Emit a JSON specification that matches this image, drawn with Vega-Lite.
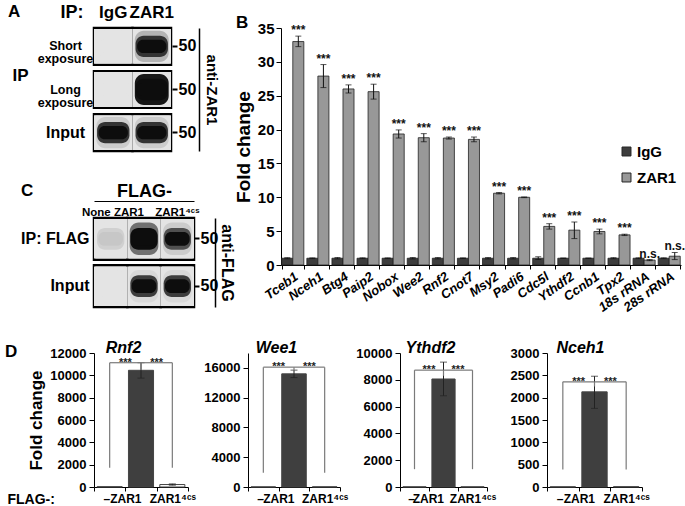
{
"$schema": "https://vega.github.io/schema/vega-lite/v6.json",
"background": "white",
"padding": {"left": 5, "top": 3, "right": 2, "bottom": 2},
"config": {
  "font": "Liberation Sans",
  "view": {"stroke": null},
  "axis": {"labelFont": "Liberation Sans", "titleFont": "Liberation Sans", "labelFontWeight": "bold", "titleFontWeight": "bold", "labelColor": "#000", "titleColor": "#000", "domainColor": "#000", "tickColor": "#000", "grid": false, "labelOverlap": false},
  "title": {"font": "Liberation Sans", "fontWeight": "bold", "color": "#000"}
},
"datasets": {
  "blotA": [
    {"row": "Short exposure", "lane": "IgG", "core": 0, "mid": 0, "outer": 0},
    {"row": "Short exposure", "lane": "ZAR1", "core": 1, "mid": 0.8, "outer": 0.2},
    {"row": "Long exposure", "lane": "IgG", "core": 0, "mid": 0, "outer": 0},
    {"row": "Long exposure", "lane": "ZAR1", "core": 1, "mid": 1, "outer": 0.95},
    {"row": "Input", "lane": "IgG", "core": 1, "mid": 0.8, "outer": 0.1},
    {"row": "Input", "lane": "ZAR1", "core": 1, "mid": 0.8, "outer": 0.1}
  ],
  "blotC": [
    {"row": "IP: FLAG", "lane": "None", "core": 0.12, "mid": 0.08, "outer": 0},
    {"row": "IP: FLAG", "lane": "ZAR1", "core": 1, "mid": 1, "outer": 0.5},
    {"row": "IP: FLAG", "lane": "ZAR1⁴ᶜˢ", "core": 1, "mid": 0.65, "outer": 0.1},
    {"row": "Input", "lane": "None", "core": 0, "mid": 0, "outer": 0},
    {"row": "Input", "lane": "ZAR1", "core": 1, "mid": 0.75, "outer": 0.05},
    {"row": "Input", "lane": "ZAR1⁴ᶜˢ", "core": 1, "mid": 0.75, "outer": 0.05}
  ],
  "foldB": [
    {"gene": "Tceb1", "grp": "IgG", "mean": 1.0, "lo": 0.92, "hi": 1.08},
    {"gene": "Tceb1", "grp": "ZAR1", "mean": 33.0, "lo": 32.25, "hi": 33.8, "sig": "***"},
    {"gene": "Nceh1", "grp": "IgG", "mean": 1.0, "lo": 0.95, "hi": 1.05},
    {"gene": "Nceh1", "grp": "ZAR1", "mean": 27.9, "lo": 26.2, "hi": 29.6, "sig": "***"},
    {"gene": "Btg4", "grp": "IgG", "mean": 1.0, "lo": 0.9, "hi": 1.1},
    {"gene": "Btg4", "grp": "ZAR1", "mean": 26.0, "lo": 25.4, "hi": 26.6, "sig": "***"},
    {"gene": "Paip2", "grp": "IgG", "mean": 1.0, "lo": 0.94, "hi": 1.06},
    {"gene": "Paip2", "grp": "ZAR1", "mean": 25.6, "lo": 24.5, "hi": 26.7, "sig": "***"},
    {"gene": "Nobox", "grp": "IgG", "mean": 1.0, "lo": 0.95, "hi": 1.05},
    {"gene": "Nobox", "grp": "ZAR1", "mean": 19.35, "lo": 18.75, "hi": 19.95, "sig": "***"},
    {"gene": "Wee2", "grp": "IgG", "mean": 1.0, "lo": 0.9, "hi": 1.1},
    {"gene": "Wee2", "grp": "ZAR1", "mean": 18.8, "lo": 18.2, "hi": 19.4, "sig": "***"},
    {"gene": "Rnf2", "grp": "IgG", "mean": 1.0, "lo": 0.9, "hi": 1.1},
    {"gene": "Rnf2", "grp": "ZAR1", "mean": 18.75, "lo": 18.6, "hi": 18.9, "sig": "***"},
    {"gene": "Cnot7", "grp": "IgG", "mean": 1.0, "lo": 0.95, "hi": 1.05},
    {"gene": "Cnot7", "grp": "ZAR1", "mean": 18.55, "lo": 18.2, "hi": 18.9, "sig": "***"},
    {"gene": "Msy2", "grp": "IgG", "mean": 1.0, "lo": 0.9, "hi": 1.1},
    {"gene": "Msy2", "grp": "ZAR1", "mean": 10.6, "lo": 10.5, "hi": 10.7, "sig": "***"},
    {"gene": "Padi6", "grp": "IgG", "mean": 1.0, "lo": 0.9, "hi": 1.1},
    {"gene": "Padi6", "grp": "ZAR1", "mean": 10.0, "lo": 9.95, "hi": 10.05, "sig": "***"},
    {"gene": "Cdc5l", "grp": "IgG", "mean": 1.0, "lo": 0.8, "hi": 1.2},
    {"gene": "Cdc5l", "grp": "ZAR1", "mean": 5.7, "lo": 5.3, "hi": 6.1, "sig": "***"},
    {"gene": "Ythdf2", "grp": "IgG", "mean": 1.0, "lo": 0.97, "hi": 1.03},
    {"gene": "Ythdf2", "grp": "ZAR1", "mean": 5.15, "lo": 3.9, "hi": 6.35, "sig": "***"},
    {"gene": "Ccnb1", "grp": "IgG", "mean": 1.0, "lo": 0.97, "hi": 1.03},
    {"gene": "Ccnb1", "grp": "ZAR1", "mean": 4.95, "lo": 4.6, "hi": 5.3, "sig": "***"},
    {"gene": "Tpx2", "grp": "IgG", "mean": 1.0, "lo": 0.92, "hi": 1.08},
    {"gene": "Tpx2", "grp": "ZAR1", "mean": 4.45, "lo": 4.35, "hi": 4.55, "sig": "***"},
    {"gene": "18s rRNA", "grp": "IgG", "mean": 1.0, "lo": 0.94, "hi": 1.06},
    {"gene": "18s rRNA", "grp": "ZAR1", "mean": 0.72, "lo": 0.64, "hi": 0.8, "sig": "n.s."},
    {"gene": "28s rRNA", "grp": "IgG", "mean": 1.0, "lo": 0.94, "hi": 1.06},
    {"gene": "28s rRNA", "grp": "ZAR1", "mean": 1.3, "lo": 0.8, "hi": 1.85, "sig": "n.s."}
  ],
  "rnf2": [
    {"cat": "–", "mean": 30},
    {"cat": "ZAR1", "mean": 10450, "lo": 9750, "hi": 11130},
    {"cat": "ZAR1⁴ᶜˢ", "mean": 220, "lo": 160, "hi": 280}
  ],
  "rnf2b": [
    {"x": "–", "x2": "–", "y": 1730, "y2": 11130},
    {"x": "–", "x2": "ZAR1", "y": 11130, "y2": 11130},
    {"x": "ZAR1", "x2": "ZAR1", "y": 10570, "y2": 11130},
    {"x": "ZAR1", "x2": "ZAR1⁴ᶜˢ", "y": 11130, "y2": 11130},
    {"x": "ZAR1⁴ᶜˢ", "x2": "ZAR1⁴ᶜˢ", "y": 1730, "y2": 11130}
  ],
  "rnf2s": [{"cat": "ZAR1", "y": 11130}],
  "wee1": [
    {"cat": "–", "mean": 20},
    {"cat": "ZAR1", "mean": 15200, "lo": 14700, "hi": 15700},
    {"cat": "ZAR1⁴ᶜˢ", "mean": 30}
  ],
  "wee1b": [
    {"x": "–", "x2": "–", "y": 1900, "y2": 16100},
    {"x": "–", "x2": "ZAR1", "y": 16100, "y2": 16100},
    {"x": "ZAR1", "x2": "ZAR1", "y": 15500, "y2": 16100},
    {"x": "ZAR1", "x2": "ZAR1⁴ᶜˢ", "y": 16100, "y2": 16100},
    {"x": "ZAR1⁴ᶜˢ", "x2": "ZAR1⁴ᶜˢ", "y": 1900, "y2": 16100}
  ],
  "wee1s": [{"cat": "ZAR1", "y": 16100}],
  "ythdf2": [
    {"cat": "–", "mean": 15},
    {"cat": "ZAR1", "mean": 8060, "lo": 6810, "hi": 9320},
    {"cat": "ZAR1⁴ᶜˢ", "mean": 15}
  ],
  "ythdf2b": [
    {"x": "–", "x2": "–", "y": 1330, "y2": 8720},
    {"x": "–", "x2": "ZAR1", "y": 8720, "y2": 8720},
    {"x": "ZAR1", "x2": "ZAR1", "y": 8300, "y2": 8720},
    {"x": "ZAR1", "x2": "ZAR1⁴ᶜˢ", "y": 8720, "y2": 8720},
    {"x": "ZAR1⁴ᶜˢ", "x2": "ZAR1⁴ᶜˢ", "y": 1330, "y2": 8720}
  ],
  "ythdf2s": [{"cat": "ZAR1", "y": 8720}],
  "nceh1": [
    {"cat": "–", "mean": 5},
    {"cat": "ZAR1", "mean": 2130, "lo": 1760, "hi": 2480},
    {"cat": "ZAR1⁴ᶜˢ", "mean": 8}
  ],
  "nceh1b": [
    {"x": "–", "x2": "–", "y": 390, "y2": 2355},
    {"x": "–", "x2": "ZAR1", "y": 2355, "y2": 2355},
    {"x": "ZAR1", "x2": "ZAR1", "y": 2250, "y2": 2355},
    {"x": "ZAR1", "x2": "ZAR1⁴ᶜˢ", "y": 2355, "y2": 2355},
    {"x": "ZAR1⁴ᶜˢ", "x2": "ZAR1⁴ᶜˢ", "y": 390, "y2": 2355}
  ],
  "nceh1s": [{"cat": "ZAR1", "y": 2355}]
},
"spacing": 24,
"resolve": {"scale": {"fill": "independent"}},
"vconcat": [
  {
    "spacing": 0,
    "resolve": {"scale": {"fill": "independent"}},
    "hconcat": [
      {
        "concat": [
          {
            "width": 77, "height": 123,
            "title": {"text": "A", "anchor": "start", "frame": "group", "dx": -86, "dy": 22, "fontSize": 17},
            "data": {"name": "blotA"},
            "resolve": {"axis": {"x": "independent", "y": "independent"}},
            "layer": [
              {
                "mark": {"type": "rect", "fill": "#e4e4e4", "stroke": "#000", "strokeWidth": 2.5},
                "encoding": {
                  "x": {"field": "lane", "type": "nominal", "scale": {"domain": ["IgG", "ZAR1"], "paddingInner": 0, "paddingOuter": 0}, "axis": null},
                  "y": {"field": "row", "type": "nominal", "scale": {"domain": ["Short exposure", "Long exposure", "Input"], "paddingInner": 0.15, "paddingOuter": 0},
                    "axis": {"orient": "left", "title": null, "ticks": false, "domain": false, "labelExpr": "split(datum.label, ' ')", "labelAlign": "center", "labelPadding": 29, "labelFontSize": {"condition": {"test": "datum.label == 'Input'", "value": 16}, "value": 12.5}, "labelLineHeight": 13, "labelBaseline": "middle"}}
                }
              },
              {
                "mark": {"type": "rect", "fill": "#e4e4e4", "height": {"band": 0.95}},
                "encoding": {
                  "x": {"field": "lane", "type": "nominal", "axis": null},
                  "y": {"field": "row", "type": "nominal", "axis": null}
                }
              },
              {
                "mark": {"type": "rect", "width": {"band": 0.88}, "height": {"band": 0.85}, "cornerRadius": 9},
                "encoding": {
                  "x": {"field": "lane", "type": "nominal", "axis": null},
                  "y": {"field": "row", "type": "nominal", "axis": null},
                  "fill": {"field": "outer", "type": "quantitative", "scale": {"domain": [0, 1], "range": ["#e4e4e4", "#0d0d0d"]}, "legend": null}
                }
              },
              {
                "mark": {"type": "rect", "width": {"band": 0.84}, "height": {"band": 0.58}, "cornerRadius": 8},
                "encoding": {
                  "x": {"field": "lane", "type": "nominal", "axis": null},
                  "y": {"field": "row", "type": "nominal", "axis": null},
                  "fill": {"field": "mid", "type": "quantitative", "legend": null}
                }
              },
              {
                "mark": {"type": "rect", "width": {"band": 0.76}, "height": {"band": 0.36}, "cornerRadius": 6},
                "encoding": {
                  "x": {"field": "lane", "type": "nominal",
                    "axis": {"orient": "top", "title": "IP:", "titleX": -11, "titleY": -7, "titleAlign": "right", "titleBaseline": "bottom", "titleFontSize": 18, "labelFontSize": 17, "labelPadding": 7, "labelAngle": 0, "ticks": false, "domain": false}},
                  "y": {"field": "row", "type": "nominal", "axis": null},
                  "fill": {"field": "core", "type": "quantitative", "legend": null}
                }
              },
              {
                "mark": {"type": "rect", "opacity": 0},
                "encoding": {
                  "x": {"field": "lane", "type": "nominal", "axis": null},
                  "y": {"field": "row", "type": "nominal",
                    "axis": {"orient": "right", "title": null, "domain": false, "tickSize": 5, "tickWidth": 2, "offset": 1, "labelPadding": 1, "labelExpr": "'50'", "labelFontSize": 16}}
                }
              },
              {
                "mark": {"type": "rect", "opacity": 0},
                "encoding": {
                  "x": {"field": "lane", "type": "nominal", "axis": null},
                  "y": {"field": "row", "type": "nominal",
                    "axis": {"orient": "right", "offset": 28, "labels": false, "ticks": false, "domain": true, "domainWidth": 1.5, "title": "anti-ZAR1", "titleAngle": 90, "titleFontSize": 15, "titlePadding": 4}}
                }
              },
              {
                "mark": {"type": "rect", "opacity": 0},
                "encoding": {
                  "x": {"field": "lane", "type": "nominal", "axis": null},
                  "y": {"field": "row", "type": "nominal",
                    "axis": {"orient": "left", "offset": 58, "labels": false, "ticks": false, "domain": false, "title": "IP", "titleAngle": 0, "titleAlign": "right", "titleBaseline": "middle", "titleY": 47, "titleFontSize": 17, "titlePadding": 8}}
                }
              }
            ]
          },
          {
            "width": 100, "height": 89,
            "title": {"text": "C", "anchor": "start", "frame": "group", "dx": -73, "dy": 22, "fontSize": 17},
            "data": {"name": "blotC"},
            "resolve": {"axis": {"x": "independent", "y": "independent"}},
            "layer": [
              {
                "mark": {"type": "rect", "fill": "#e4e4e4", "stroke": "#000", "strokeWidth": 2.5},
                "encoding": {
                  "x": {"field": "lane", "type": "nominal", "scale": {"domain": ["None", "ZAR1", "ZAR1⁴ᶜˢ"], "paddingInner": 0, "paddingOuter": 0}, "axis": null},
                  "y": {"field": "row", "type": "nominal", "scale": {"domain": ["IP: FLAG", "Input"], "paddingInner": 0.12, "paddingOuter": 0},
                    "axis": {"orient": "left", "title": null, "ticks": false, "domain": false, "labelFontSize": 16, "labelPadding": 5}}
                }
              },
              {
                "mark": {"type": "rect", "fill": "#e4e4e4", "height": {"band": 0.95}},
                "encoding": {
                  "x": {"field": "lane", "type": "nominal", "axis": null},
                  "y": {"field": "row", "type": "nominal", "axis": null}
                }
              },
              {
                "mark": {"type": "rect", "width": {"band": 0.86}, "height": {"band": 0.78}, "cornerRadius": 9},
                "encoding": {
                  "x": {"field": "lane", "type": "nominal", "axis": null},
                  "y": {"field": "row", "type": "nominal", "axis": null},
                  "fill": {"field": "outer", "type": "quantitative", "scale": {"domain": [0, 1], "range": ["#e4e4e4", "#0d0d0d"]}, "legend": null}
                }
              },
              {
                "mark": {"type": "rect", "width": {"band": 0.82}, "height": {"band": 0.52}, "cornerRadius": 8},
                "encoding": {
                  "x": {"field": "lane", "type": "nominal", "axis": null},
                  "y": {"field": "row", "type": "nominal", "axis": null},
                  "fill": {"field": "mid", "type": "quantitative", "legend": null}
                }
              },
              {
                "mark": {"type": "rect", "width": {"band": 0.74}, "height": {"band": 0.33}, "cornerRadius": 6},
                "encoding": {
                  "x": {"field": "lane", "type": "nominal",
                    "axis": {"orient": "top", "title": null, "labelFontSize": 11.5, "labelPadding": 1, "labelAngle": 0, "labelAlign": {"condition": {"test": "datum.label == 'ZAR1⁴ᶜˢ'", "value": "center"}, "value": "right"}, "ticks": false, "domain": false}},
                  "y": {"field": "row", "type": "nominal", "axis": null},
                  "fill": {"field": "core", "type": "quantitative", "legend": null}
                }
              },
              {
                "mark": {"type": "rect", "opacity": 0},
                "encoding": {
                  "x": {"field": "lane", "type": "nominal",
                    "axis": {"orient": "top", "offset": 17, "labels": false, "ticks": false, "domain": true, "domainWidth": 1, "title": "FLAG-", "titleFontSize": 18, "titlePadding": 1}},
                  "y": {"field": "row", "type": "nominal", "axis": null}
                }
              },
              {
                "mark": {"type": "rect", "opacity": 0},
                "encoding": {
                  "x": {"field": "lane", "type": "nominal", "axis": null},
                  "y": {"field": "row", "type": "nominal",
                    "axis": {"orient": "right", "title": null, "domain": false, "tickSize": 5, "tickWidth": 2, "offset": 0, "labelPadding": 1, "labelExpr": "'50'", "labelFontSize": 16}}
                }
              },
              {
                "mark": {"type": "rect", "opacity": 0},
                "encoding": {
                  "x": {"field": "lane", "type": "nominal", "axis": null},
                  "y": {"field": "row", "type": "nominal",
                    "axis": {"orient": "right", "offset": 21, "labels": false, "ticks": false, "domain": true, "domainWidth": 1.5, "title": "anti-FLAG", "titleAngle": 90, "titleFontSize": 16, "titlePadding": 3}}
                }
              }
            ]
          }
        ],
        "columns": 1,
        "align": "none",
        "spacing": 29,
        "resolve": {"scale": {"fill": "independent"}}
      },
      {
        "width": 400, "height": 237,
        "title": {"text": "B", "anchor": "start", "frame": "group", "dx": -45, "offset": -11, "fontSize": 17},
        "data": {"name": "foldB"},
        "encoding": {
          "x": {"field": "gene", "type": "nominal", "sort": null,
            "scale": {"domain": ["Tceb1", "Nceh1", "Btg4", "Paip2", "Nobox", "Wee2", "Rnf2", "Cnot7", "Msy2", "Padi6", "Cdc5l", "Ythdf2", "Ccnb1", "Tpx2", "18s rRNA", "28s rRNA"], "paddingInner": 0.12, "paddingOuter": 0.03},
            "axis": {"title": null, "labelAngle": -35, "labelAlign": "right", "labelBaseline": "top", "labelFontSize": 13, "labelFontStyle": "italic", "labelPadding": 1, "tickBand": "extent", "tickSize": 4}},
          "xOffset": {"field": "grp", "type": "nominal", "scale": {"domain": ["IgG", "ZAR1"]}}
        },
        "layer": [
          {
            "mark": {"type": "bar", "stroke": "#222", "strokeWidth": 0.8},
            "encoding": {
              "y": {"field": "mean", "type": "quantitative", "scale": {"domain": [0, 35], "nice": false},
                "axis": {"values": [0, 5, 10, 15, 20, 25, 30, 35], "title": "Fold change", "titleFontSize": 19, "titlePadding": 4, "labelFontSize": 15, "tickSize": 5, "labelPadding": 2}},
              "fill": {"field": "grp", "type": "nominal", "scale": {"domain": ["IgG", "ZAR1"], "range": ["#3d3d3d", "#989898"]},
                "legend": {"orient": "none", "legendX": 338, "legendY": 116, "title": null, "symbolType": "square", "symbolSize": 80, "symbolStrokeColor": "#222", "symbolStrokeWidth": 1, "labelFontSize": 15, "labelFontWeight": "bold", "labelColor": "#000", "rowPadding": 10, "labelOffset": 3}}
            }
          },
          {
            "mark": {"type": "rule", "color": "#111", "strokeWidth": 1},
            "encoding": {"y": {"field": "lo", "type": "quantitative", "scale": {"domain": [0, 35], "nice": false},
                "axis": {"values": [0, 5, 10, 15, 20, 25, 30, 35], "title": "Fold change", "titleFontSize": 19, "titlePadding": 4, "labelFontSize": 15, "tickSize": 5, "labelPadding": 2}}, "y2": {"field": "hi"}}
          },
          {
            "mark": {"type": "tick", "color": "#111", "thickness": 1, "size": 6},
            "encoding": {"y": {"field": "lo", "type": "quantitative", "scale": {"domain": [0, 35], "nice": false},
                "axis": {"values": [0, 5, 10, 15, 20, 25, 30, 35], "title": "Fold change", "titleFontSize": 19, "titlePadding": 4, "labelFontSize": 15, "tickSize": 5, "labelPadding": 2}}}
          },
          {
            "mark": {"type": "tick", "color": "#111", "thickness": 1, "size": 6},
            "encoding": {"y": {"field": "hi", "type": "quantitative", "scale": {"domain": [0, 35], "nice": false},
                "axis": {"values": [0, 5, 10, 15, 20, 25, 30, 35], "title": "Fold change", "titleFontSize": 19, "titlePadding": 4, "labelFontSize": 15, "tickSize": 5, "labelPadding": 2}}}
          },
          {
            "transform": [{"filter": "isValid(datum.sig)"}],
            "mark": {"type": "text", "baseline": "alphabetic", "dy": -2, "fontSize": 12, "fontWeight": "bold", "color": "#111"},
            "encoding": {"y": {"field": "hi", "type": "quantitative", "scale": {"domain": [0, 35], "nice": false},
                "axis": {"values": [0, 5, 10, 15, 20, 25, 30, 35], "title": "Fold change", "titleFontSize": 19, "titlePadding": 4, "labelFontSize": 15, "tickSize": 5, "labelPadding": 2}}, "text": {"field": "sig"}}
          }
        ]
      }
    ]
  },
  {
    "spacing": 60,
    "bounds": "flush",
    "hconcat": [
      {
        "width": 94, "height": 134,
        "title": {"text": "D", "anchor": "start", "frame": "group", "dx": -89, "dy": 26, "fontSize": 17},
        "resolve": {"axis": {"x": "independent"}},
        "layer": [
          {"data": {"name": "rnf2"}, "mark": {"type": "bar", "width": {"band": 0.8}, "stroke": "#444", "strokeWidth": 1},
           "encoding": {
             "x": {"field": "cat", "type": "nominal", "scale": {"domain": ["–", "ZAR1", "ZAR1⁴ᶜˢ"], "paddingInner": 0, "paddingOuter": 0},
               "axis": {"title": "FLAG-:", "titleX": -87, "titleY": 5, "titleAlign": "left", "titleBaseline": "top", "titleFontSize": 14, "labelAngle": 0, "labelFontSize": 12, "labelPadding": 2, "labelExpr": "datum.label == '–' ? '–\u00a0\u00a0\u00a0' : datum.label", "labelAlign": {"condition": {"test": "datum.label == 'ZAR1⁴ᶜˢ'", "value": "center"}, "value": "right"}, "tickBand": "extent", "tickSize": 4}},
             "y": {"field": "mean", "type": "quantitative", "scale": {"domain": [0, 12000], "nice": false},
               "axis": {"values": [0, 2000, 4000, 6000, 8000, 10000, 12000], "format": "d", "title": "Fold change", "titleFontSize": 17, "titlePadding": 4, "labelFontSize": 13, "tickSize": 5, "labelPadding": 3}},
             "fill": {"field": "cat", "type": "nominal", "scale": {"domain": ["–", "ZAR1", "ZAR1⁴ᶜˢ"], "range": ["#ffffff", "#3f3f3f", "#ffffff"]}, "legend": null}}},
          {"data": {"name": "rnf2"}, "transform": [{"filter": "isValid(datum.lo)"}], "mark": {"type": "rule", "color": "#222"},
           "encoding": {"x": {"field": "cat", "type": "nominal", "axis": null}, "y": {"field": "lo", "type": "quantitative", "scale": {"domain": [0, 12000], "nice": false}, "axis": {"values": [0, 2000, 4000, 6000, 8000, 10000, 12000], "format": "d", "title": "Fold change", "titleFontSize": 17, "titlePadding": 4, "labelFontSize": 13, "tickSize": 5, "labelPadding": 3}}, "y2": {"field": "hi"}}},
          {"data": {"name": "rnf2"}, "transform": [{"filter": "isValid(datum.lo)"}], "mark": {"type": "tick", "color": "#222", "thickness": 1, "size": 7},
           "encoding": {"x": {"field": "cat", "type": "nominal", "axis": null}, "y": {"field": "lo", "type": "quantitative", "scale": {"domain": [0, 12000], "nice": false}, "axis": {"values": [0, 2000, 4000, 6000, 8000, 10000, 12000], "format": "d", "title": "Fold change", "titleFontSize": 17, "titlePadding": 4, "labelFontSize": 13, "tickSize": 5, "labelPadding": 3}}}},
          {"data": {"name": "rnf2"}, "transform": [{"filter": "isValid(datum.lo)"}], "mark": {"type": "tick", "color": "#222", "thickness": 1, "size": 7},
           "encoding": {"x": {"field": "cat", "type": "nominal", "axis": null}, "y": {"field": "hi", "type": "quantitative", "scale": {"domain": [0, 12000], "nice": false}, "axis": {"values": [0, 2000, 4000, 6000, 8000, 10000, 12000], "format": "d", "title": "Fold change", "titleFontSize": 17, "titlePadding": 4, "labelFontSize": 13, "tickSize": 5, "labelPadding": 3}}}},
          {"data": {"name": "rnf2b"}, "mark": {"type": "rule", "color": "#7a7a7a", "strokeWidth": 1.2},
           "encoding": {"x": {"field": "x", "type": "nominal", "axis": {"orient": "top", "labels": false, "ticks": false, "domain": false, "title": "Rnf2", "titleFontStyle": "italic", "titleFontSize": 16, "titleX": 29, "titleY": -1, "titleBaseline": "alphabetic", "titleAlign": "center"}},
             "x2": {"field": "x2"}, "y": {"field": "y", "type": "quantitative", "scale": {"domain": [0, 12000], "nice": false}, "axis": {"values": [0, 2000, 4000, 6000, 8000, 10000, 12000], "format": "d", "title": "Fold change", "titleFontSize": 17, "titlePadding": 4, "labelFontSize": 13, "tickSize": 5, "labelPadding": 3}}, "y2": {"field": "y2"}}},
          {"data": {"name": "rnf2s"}, "mark": {"type": "text", "text": "***", "fontSize": 11, "fontWeight": "bold", "baseline": "alphabetic", "dy": 3, "color": "#222"},
           "encoding": {"x": {"field": "cat", "type": "nominal", "bandPosition": 0, "axis": null}, "y": {"field": "y", "type": "quantitative", "scale": {"domain": [0, 12000], "nice": false}, "axis": {"values": [0, 2000, 4000, 6000, 8000, 10000, 12000], "format": "d", "title": "Fold change", "titleFontSize": 17, "titlePadding": 4, "labelFontSize": 13, "tickSize": 5, "labelPadding": 3}}}},
          {"data": {"name": "rnf2s"}, "mark": {"type": "text", "text": "***", "fontSize": 11, "fontWeight": "bold", "baseline": "alphabetic", "dy": 3, "color": "#222"},
           "encoding": {"x": {"field": "cat", "type": "nominal", "bandPosition": 1, "axis": null}, "y": {"field": "y", "type": "quantitative", "scale": {"domain": [0, 12000], "nice": false}, "axis": {"values": [0, 2000, 4000, 6000, 8000, 10000, 12000], "format": "d", "title": "Fold change", "titleFontSize": 17, "titlePadding": 4, "labelFontSize": 13, "tickSize": 5, "labelPadding": 3}}}}
        ]
      },
      {
        "width": 92, "height": 134,
        "resolve": {"axis": {"x": "independent"}},
        "layer": [
          {"data": {"name": "wee1"}, "mark": {"type": "bar", "width": {"band": 0.8}, "stroke": "#444", "strokeWidth": 1},
           "encoding": {
             "x": {"field": "cat", "type": "nominal", "scale": {"domain": ["–", "ZAR1", "ZAR1⁴ᶜˢ"], "paddingInner": 0, "paddingOuter": 0},
               "axis": {"title": null, "labelAngle": 0, "labelFontSize": 12, "labelPadding": 2, "labelExpr": "datum.label == '–' ? '–\u00a0\u00a0\u00a0' : datum.label", "labelAlign": {"condition": {"test": "datum.label == 'ZAR1⁴ᶜˢ'", "value": "center"}, "value": "right"}, "tickBand": "extent", "tickSize": 4}},
             "y": {"field": "mean", "type": "quantitative", "scale": {"domain": [0, 18000], "nice": false},
               "axis": {"values": [0, 4000, 8000, 12000, 16000], "format": "d", "title": null, "labelFontSize": 13, "tickSize": 5, "labelPadding": 3}},
             "fill": {"field": "cat", "type": "nominal", "scale": {"domain": ["–", "ZAR1", "ZAR1⁴ᶜˢ"], "range": ["#ffffff", "#3f3f3f", "#ffffff"]}, "legend": null}}},
          {"data": {"name": "wee1"}, "transform": [{"filter": "isValid(datum.lo)"}], "mark": {"type": "rule", "color": "#222"},
           "encoding": {"x": {"field": "cat", "type": "nominal", "axis": null}, "y": {"field": "lo", "type": "quantitative", "scale": {"domain": [0, 18000], "nice": false}, "axis": {"values": [0, 4000, 8000, 12000, 16000], "format": "d", "title": null, "labelFontSize": 13, "tickSize": 5, "labelPadding": 3}}, "y2": {"field": "hi"}}},
          {"data": {"name": "wee1"}, "transform": [{"filter": "isValid(datum.lo)"}], "mark": {"type": "tick", "color": "#222", "thickness": 1, "size": 7},
           "encoding": {"x": {"field": "cat", "type": "nominal", "axis": null}, "y": {"field": "lo", "type": "quantitative", "scale": {"domain": [0, 18000], "nice": false}, "axis": {"values": [0, 4000, 8000, 12000, 16000], "format": "d", "title": null, "labelFontSize": 13, "tickSize": 5, "labelPadding": 3}}}},
          {"data": {"name": "wee1"}, "transform": [{"filter": "isValid(datum.lo)"}], "mark": {"type": "tick", "color": "#222", "thickness": 1, "size": 7},
           "encoding": {"x": {"field": "cat", "type": "nominal", "axis": null}, "y": {"field": "hi", "type": "quantitative", "scale": {"domain": [0, 18000], "nice": false}, "axis": {"values": [0, 4000, 8000, 12000, 16000], "format": "d", "title": null, "labelFontSize": 13, "tickSize": 5, "labelPadding": 3}}}},
          {"data": {"name": "wee1b"}, "mark": {"type": "rule", "color": "#7a7a7a", "strokeWidth": 1.2},
           "encoding": {"x": {"field": "x", "type": "nominal", "axis": {"orient": "top", "labels": false, "ticks": false, "domain": false, "title": "Wee1", "titleFontStyle": "italic", "titleFontSize": 16, "titleX": 28, "titleY": -1, "titleBaseline": "alphabetic", "titleAlign": "center"}},
             "x2": {"field": "x2"}, "y": {"field": "y", "type": "quantitative", "scale": {"domain": [0, 18000], "nice": false}, "axis": {"values": [0, 4000, 8000, 12000, 16000], "format": "d", "title": null, "labelFontSize": 13, "tickSize": 5, "labelPadding": 3}}, "y2": {"field": "y2"}}},
          {"data": {"name": "wee1s"}, "mark": {"type": "text", "text": "***", "fontSize": 11, "fontWeight": "bold", "baseline": "alphabetic", "dy": 3, "color": "#222"},
           "encoding": {"x": {"field": "cat", "type": "nominal", "bandPosition": 0, "axis": null}, "y": {"field": "y", "type": "quantitative", "scale": {"domain": [0, 18000], "nice": false}, "axis": {"values": [0, 4000, 8000, 12000, 16000], "format": "d", "title": null, "labelFontSize": 13, "tickSize": 5, "labelPadding": 3}}}},
          {"data": {"name": "wee1s"}, "mark": {"type": "text", "text": "***", "fontSize": 11, "fontWeight": "bold", "baseline": "alphabetic", "dy": 3, "color": "#222"},
           "encoding": {"x": {"field": "cat", "type": "nominal", "bandPosition": 1, "axis": null}, "y": {"field": "y", "type": "quantitative", "scale": {"domain": [0, 18000], "nice": false}, "axis": {"values": [0, 4000, 8000, 12000, 16000], "format": "d", "title": null, "labelFontSize": 13, "tickSize": 5, "labelPadding": 3}}}}
        ]
      },
      {
        "width": 87, "height": 134,
        "resolve": {"axis": {"x": "independent"}},
        "layer": [
          {"data": {"name": "ythdf2"}, "mark": {"type": "bar", "width": {"band": 0.8}, "stroke": "#444", "strokeWidth": 1},
           "encoding": {
             "x": {"field": "cat", "type": "nominal", "scale": {"domain": ["–", "ZAR1", "ZAR1⁴ᶜˢ"], "paddingInner": 0, "paddingOuter": 0},
               "axis": {"title": null, "labelAngle": 0, "labelFontSize": 12, "labelPadding": 2, "labelExpr": "datum.label == '–' ? '–\u00a0\u00a0\u00a0' : datum.label", "labelAlign": {"condition": {"test": "datum.label == 'ZAR1⁴ᶜˢ'", "value": "center"}, "value": "right"}, "tickBand": "extent", "tickSize": 4}},
             "y": {"field": "mean", "type": "quantitative", "scale": {"domain": [0, 10000], "nice": false},
               "axis": {"values": [0, 2000, 4000, 6000, 8000, 10000], "format": "d", "title": null, "labelFontSize": 13, "tickSize": 5, "labelPadding": 3}},
             "fill": {"field": "cat", "type": "nominal", "scale": {"domain": ["–", "ZAR1", "ZAR1⁴ᶜˢ"], "range": ["#ffffff", "#3f3f3f", "#ffffff"]}, "legend": null}}},
          {"data": {"name": "ythdf2"}, "transform": [{"filter": "isValid(datum.lo)"}], "mark": {"type": "rule", "color": "#222"},
           "encoding": {"x": {"field": "cat", "type": "nominal", "axis": null}, "y": {"field": "lo", "type": "quantitative", "scale": {"domain": [0, 10000], "nice": false}, "axis": {"values": [0, 2000, 4000, 6000, 8000, 10000], "format": "d", "title": null, "labelFontSize": 13, "tickSize": 5, "labelPadding": 3}}, "y2": {"field": "hi"}}},
          {"data": {"name": "ythdf2"}, "transform": [{"filter": "isValid(datum.lo)"}], "mark": {"type": "tick", "color": "#222", "thickness": 1, "size": 7},
           "encoding": {"x": {"field": "cat", "type": "nominal", "axis": null}, "y": {"field": "lo", "type": "quantitative", "scale": {"domain": [0, 10000], "nice": false}, "axis": {"values": [0, 2000, 4000, 6000, 8000, 10000], "format": "d", "title": null, "labelFontSize": 13, "tickSize": 5, "labelPadding": 3}}}},
          {"data": {"name": "ythdf2"}, "transform": [{"filter": "isValid(datum.lo)"}], "mark": {"type": "tick", "color": "#222", "thickness": 1, "size": 7},
           "encoding": {"x": {"field": "cat", "type": "nominal", "axis": null}, "y": {"field": "hi", "type": "quantitative", "scale": {"domain": [0, 10000], "nice": false}, "axis": {"values": [0, 2000, 4000, 6000, 8000, 10000], "format": "d", "title": null, "labelFontSize": 13, "tickSize": 5, "labelPadding": 3}}}},
          {"data": {"name": "ythdf2b"}, "mark": {"type": "rule", "color": "#7a7a7a", "strokeWidth": 1.2},
           "encoding": {"x": {"field": "x", "type": "nominal", "axis": {"orient": "top", "labels": false, "ticks": false, "domain": false, "title": "Ythdf2", "titleFontStyle": "italic", "titleFontSize": 16, "titleX": 30, "titleY": -1, "titleBaseline": "alphabetic", "titleAlign": "center"}},
             "x2": {"field": "x2"}, "y": {"field": "y", "type": "quantitative", "scale": {"domain": [0, 10000], "nice": false}, "axis": {"values": [0, 2000, 4000, 6000, 8000, 10000], "format": "d", "title": null, "labelFontSize": 13, "tickSize": 5, "labelPadding": 3}}, "y2": {"field": "y2"}}},
          {"data": {"name": "ythdf2s"}, "mark": {"type": "text", "text": "***", "fontSize": 11, "fontWeight": "bold", "baseline": "alphabetic", "dy": 3, "color": "#222"},
           "encoding": {"x": {"field": "cat", "type": "nominal", "bandPosition": 0, "axis": null}, "y": {"field": "y", "type": "quantitative", "scale": {"domain": [0, 10000], "nice": false}, "axis": {"values": [0, 2000, 4000, 6000, 8000, 10000], "format": "d", "title": null, "labelFontSize": 13, "tickSize": 5, "labelPadding": 3}}}},
          {"data": {"name": "ythdf2s"}, "mark": {"type": "text", "text": "***", "fontSize": 11, "fontWeight": "bold", "baseline": "alphabetic", "dy": 3, "color": "#222"},
           "encoding": {"x": {"field": "cat", "type": "nominal", "bandPosition": 1, "axis": null}, "y": {"field": "y", "type": "quantitative", "scale": {"domain": [0, 10000], "nice": false}, "axis": {"values": [0, 2000, 4000, 6000, 8000, 10000], "format": "d", "title": null, "labelFontSize": 13, "tickSize": 5, "labelPadding": 3}}}}
        ]
      },
      {
        "width": 95, "height": 134,
        "resolve": {"axis": {"x": "independent"}},
        "layer": [
          {"data": {"name": "nceh1"}, "mark": {"type": "bar", "width": {"band": 0.8}, "stroke": "#444", "strokeWidth": 1},
           "encoding": {
             "x": {"field": "cat", "type": "nominal", "scale": {"domain": ["–", "ZAR1", "ZAR1⁴ᶜˢ"], "paddingInner": 0, "paddingOuter": 0},
               "axis": {"title": null, "labelAngle": 0, "labelFontSize": 12, "labelPadding": 2, "labelExpr": "datum.label == '–' ? '–\u00a0\u00a0\u00a0' : datum.label", "labelAlign": {"condition": {"test": "datum.label == 'ZAR1⁴ᶜˢ'", "value": "center"}, "value": "right"}, "tickBand": "extent", "tickSize": 4}},
             "y": {"field": "mean", "type": "quantitative", "scale": {"domain": [0, 3000], "nice": false},
               "axis": {"values": [0, 500, 1000, 1500, 2000, 2500, 3000], "format": "d", "title": null, "labelFontSize": 13, "tickSize": 5, "labelPadding": 3}},
             "fill": {"field": "cat", "type": "nominal", "scale": {"domain": ["–", "ZAR1", "ZAR1⁴ᶜˢ"], "range": ["#ffffff", "#3f3f3f", "#ffffff"]}, "legend": null}}},
          {"data": {"name": "nceh1"}, "transform": [{"filter": "isValid(datum.lo)"}], "mark": {"type": "rule", "color": "#222"},
           "encoding": {"x": {"field": "cat", "type": "nominal", "axis": null}, "y": {"field": "lo", "type": "quantitative", "scale": {"domain": [0, 3000], "nice": false}, "axis": {"values": [0, 500, 1000, 1500, 2000, 2500, 3000], "format": "d", "title": null, "labelFontSize": 13, "tickSize": 5, "labelPadding": 3}}, "y2": {"field": "hi"}}},
          {"data": {"name": "nceh1"}, "transform": [{"filter": "isValid(datum.lo)"}], "mark": {"type": "tick", "color": "#222", "thickness": 1, "size": 7},
           "encoding": {"x": {"field": "cat", "type": "nominal", "axis": null}, "y": {"field": "lo", "type": "quantitative", "scale": {"domain": [0, 3000], "nice": false}, "axis": {"values": [0, 500, 1000, 1500, 2000, 2500, 3000], "format": "d", "title": null, "labelFontSize": 13, "tickSize": 5, "labelPadding": 3}}}},
          {"data": {"name": "nceh1"}, "transform": [{"filter": "isValid(datum.lo)"}], "mark": {"type": "tick", "color": "#222", "thickness": 1, "size": 7},
           "encoding": {"x": {"field": "cat", "type": "nominal", "axis": null}, "y": {"field": "hi", "type": "quantitative", "scale": {"domain": [0, 3000], "nice": false}, "axis": {"values": [0, 500, 1000, 1500, 2000, 2500, 3000], "format": "d", "title": null, "labelFontSize": 13, "tickSize": 5, "labelPadding": 3}}}},
          {"data": {"name": "nceh1b"}, "mark": {"type": "rule", "color": "#7a7a7a", "strokeWidth": 1.2},
           "encoding": {"x": {"field": "x", "type": "nominal", "axis": {"orient": "top", "labels": false, "ticks": false, "domain": false, "title": "Nceh1", "titleFontStyle": "italic", "titleFontSize": 16, "titleX": 33, "titleY": -1, "titleBaseline": "alphabetic", "titleAlign": "center"}},
             "x2": {"field": "x2"}, "y": {"field": "y", "type": "quantitative", "scale": {"domain": [0, 3000], "nice": false}, "axis": {"values": [0, 500, 1000, 1500, 2000, 2500, 3000], "format": "d", "title": null, "labelFontSize": 13, "tickSize": 5, "labelPadding": 3}}, "y2": {"field": "y2"}}},
          {"data": {"name": "nceh1s"}, "mark": {"type": "text", "text": "***", "fontSize": 11, "fontWeight": "bold", "baseline": "alphabetic", "dy": 3, "color": "#222"},
           "encoding": {"x": {"field": "cat", "type": "nominal", "bandPosition": 0, "axis": null}, "y": {"field": "y", "type": "quantitative", "scale": {"domain": [0, 3000], "nice": false}, "axis": {"values": [0, 500, 1000, 1500, 2000, 2500, 3000], "format": "d", "title": null, "labelFontSize": 13, "tickSize": 5, "labelPadding": 3}}}},
          {"data": {"name": "nceh1s"}, "mark": {"type": "text", "text": "***", "fontSize": 11, "fontWeight": "bold", "baseline": "alphabetic", "dy": 3, "color": "#222"},
           "encoding": {"x": {"field": "cat", "type": "nominal", "bandPosition": 1, "axis": null}, "y": {"field": "y", "type": "quantitative", "scale": {"domain": [0, 3000], "nice": false}, "axis": {"values": [0, 500, 1000, 1500, 2000, 2500, 3000], "format": "d", "title": null, "labelFontSize": 13, "tickSize": 5, "labelPadding": 3}}}}
        ]
      }
    ]
  }
]
}
